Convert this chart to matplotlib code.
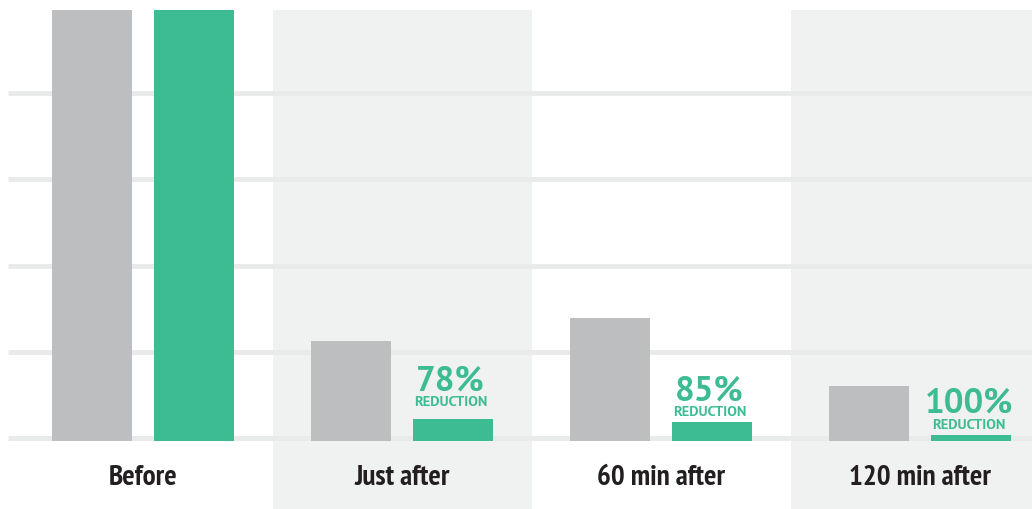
import numpy as np
import matplotlib
matplotlib.use("Agg")
import matplotlib.pyplot as plt

# values (Before = 100, one gridline = 20)
groups = ["Before", "Just after", "60 min after", "120 min after"]
grey_vals = [100, 23.3, 28.6, 12.8]
green_vals = [100, 5.1, 4.4, 1.4]
reductions = [None, "78%", "85%", "100%"]
grid_vals = [0, 20, 40, 60, 80]

GREY = "#bdbec0"
GREEN = "#3dbb93"
BAND = "#f0f1f1"
GRID = "#e9eaea"
DARK = "#231f20"

fig = plt.figure(figsize=(10.32, 5.10), dpi=100)
ax = fig.add_axes([0, 0, 1, 499 / 510])
ax.set_xlim(-0.552, 3.432)
ax.set_ylim(-15.8, 100)
ax.axis("off")

x = np.arange(len(groups))
off = 0.197
w = 0.309

# shaded bands behind every second group
for i in x[1::2]:
	ax.axvspan(i - 0.5, i + 0.5, color=BAND, zorder=0, lw=0)

ax.hlines([v + 0.7 for v in grid_vals], -0.521, 3.6, colors=GRID, lw=3.6, zorder=1)

ax.bar(x - off, grey_vals, width=w, color=GREY, zorder=2, lw=0)
ax.bar(x + off, green_vals, width=w, color=GREEN, zorder=2, lw=0)

for i, g in enumerate(groups):
	ax.annotate(g, xy=(i, 0), xytext=(0, -31), textcoords="offset points",
		ha="center", va="baseline", fontsize=21, fontweight="bold",
		family=["PT Sans Narrow", "DejaVu Sans"], color=DARK)

lift = [0, 5, 0, 0]
pct_font = ["PT Sans", "DejaVu Sans"]
for i, r in enumerate(reductions):
	if r is None:
		continue
	ax.annotate("REDUCTION", xy=(i + off - 0.01, green_vals[i]), xytext=(0, 5 + lift[i]),
		textcoords="offset points", ha="center", va="baseline", fontsize=10.4,
		fontweight="bold", family=pct_font, color=GREEN)
	ax.annotate(r, xy=(i + off - 0.01, green_vals[i]), xytext=(0, 16.5 + lift[i]),
		textcoords="offset points", ha="center", va="baseline", fontsize=25,
		fontweight="bold", family=pct_font, color=GREEN)

fig.savefig("out.png", dpi=100)
